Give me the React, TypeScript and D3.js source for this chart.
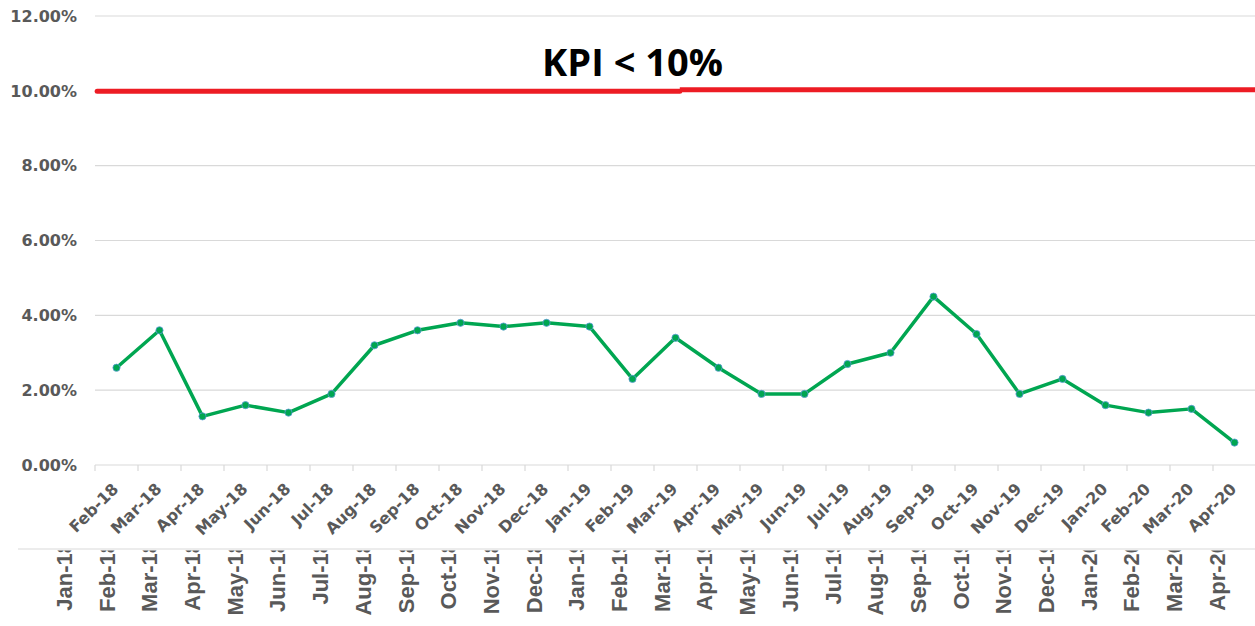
import React from "react";
import * as d3 from "d3";

const months = [
  "Feb-18", "Mar-18", "Apr-18", "May-18", "Jun-18", "Jul-18", "Aug-18", "Sep-18", "Oct-18",
  "Nov-18", "Dec-18", "Jan-19", "Feb-19", "Mar-19", "Apr-19", "May-19", "Jun-19", "Jul-19",
  "Aug-19", "Sep-19", "Oct-19", "Nov-19", "Dec-19", "Jan-20", "Feb-20", "Mar-20", "Apr-20",
];
const rates = [
  2.6, 3.6, 1.3, 1.6, 1.4, 1.9, 3.2, 3.6, 3.8, 3.7, 3.8, 3.7, 2.3, 3.4, 2.6, 1.9, 1.9, 2.7,
  3.0, 4.5, 3.5, 1.9, 2.3, 1.6, 1.4, 1.5, 0.6,
];
const lowerLabels = [
  "Jan-18", "Feb-18", "Mar-18", "Apr-18", "May-18", "Jun-18", "Jul-18", "Aug-18", "Sep-18",
  "Oct-18", "Nov-18", "Dec-18", "Jan-19", "Feb-19", "Mar-19", "Apr-19", "May-19", "Jun-19",
  "Jul-19", "Aug-19", "Sep-19", "Oct-19", "Nov-19", "Dec-19", "Jan-20", "Feb-20", "Mar-20",
  "Apr-20",
];
const yTicks = [0, 2, 4, 6, 8, 10, 12];
const kpiLabel = "KPI < 10%";
const kpiLabelAt = 12.5; // month index position of label centre
const kpiSegments = [
  { from: 0.05, to: 13.6, value: 9.99 },
  { from: 13.6, to: 27, value: 10.03 },
];

const W = 1255;
const H = 626;
const GRAY = "#595959";
const GRID = "#d9d9d9";

export default function App() {
  const x = d3.scaleBand<string>().domain(months).range([95, 1256]).paddingInner(0).paddingOuter(0);
  const bw = x.bandwidth();
  const cx = (m: string) => (x(m) as number) + bw / 2;
  const xi = d3.scaleLinear().domain([0, months.length]).range([95, 1256]);
  const y = d3.scaleLinear().domain([0, 12]).range([465, 16]);
  const x2 = d3.scalePoint<string>().domain(lowerLabels).range([64, 64 + 42.7 * 27]);

  const line = d3
    .line<number>()
    .x((_, i) => cx(months[i]))
    .y((d) => y(d));

  const boundaries = [...months.map((m) => x(m) as number), 1256];

  return (
    <svg
      width={W}
      height={H}
      style={{ position: "absolute", left: 0, top: 0, display: "block", background: "#fff" }}
    >
      <defs>
        <clipPath id="lowclip">
          <rect x={0} y={550.5} width={W} height={H - 550} />
        </clipPath>
      </defs>
      {/* gridlines */}
      {yTicks.map((t) => (
        <line key={t} x1={95} x2={W} y1={y(t)} y2={y(t)} stroke={GRID} strokeWidth={1.2} />
      ))}
      {/* tick marks */}
      {boundaries.map((b, i) => (
        <line key={i} x1={b} x2={b} y1={y(0)} y2={y(0) + 6} stroke={GRID} strokeWidth={1.2} />
      ))}
      {/* y labels */}
      {yTicks.map((t) => (
        <text
          key={t}
          x={77}
          y={y(t)}
          dy="0.36em"
          textAnchor="end"
          fontFamily="DejaVu Sans"
          fontWeight={700}
          fontSize={16}
          fill={GRAY}
        >
          {t.toFixed(2) + "%"}
        </text>
      ))}
      {/* upper x labels */}
      {months.map((m) => (
        <text
          key={m}
          transform={`translate(${cx(m) + 3},${490}) rotate(-45)`}
          textAnchor="end"
          fontFamily="DejaVu Sans"
          fontWeight={700}
          fontSize={16}
          fill={GRAY}
        >
          {m}
        </text>
      ))}
      {/* lower axis line */}
      <line x1={18} x2={W} y1={549} y2={549} stroke={GRID} strokeWidth={1.2} />
      {/* lower labels, clipped */}
      <g clipPath="url(#lowclip)">
        {lowerLabels.map((m) => (
          <text
            key={m}
            transform={`translate(${x2(m)},${541}) rotate(-90)`}
            dy="0.36em"
            textAnchor="end"
            fontFamily="Liberation Sans, Arial, sans-serif"
            fontWeight={700}
            fontSize={22}
            fill={GRAY}
          >
            {m}
          </text>
        ))}
      </g>
      {/* KPI line */}
      {kpiSegments.map((s, i) => (
        <line
          key={i}
          x1={xi(s.from)}
          x2={xi(s.to)}
          y1={y(s.value)}
          y2={y(s.value)}
          stroke="#ed1c24"
          strokeWidth={5}
          strokeLinecap={i === 0 ? "round" : "butt"}
        />
      ))}
      <text
        x={xi(kpiLabelAt)}
        y={y(10) - 15}
        textAnchor="middle"
        fontFamily="Open Sans"
        fontWeight={700}
        fontSize={38}
        fill="#000"
      >
        {kpiLabel}
      </text>
      {/* data line */}
      <path d={line(rates) || ""} fill="none" stroke="#00a651" strokeWidth={3.5} strokeLinejoin="round" />
      {rates.map((v, i) => (
        <circle
          key={i}
          cx={cx(months[i])}
          cy={y(v)}
          r={3.6}
          fill="#00a651"
          stroke="#5b9bd5"
          strokeWidth={0.8}
        />
      ))}
    </svg>
  );
}
